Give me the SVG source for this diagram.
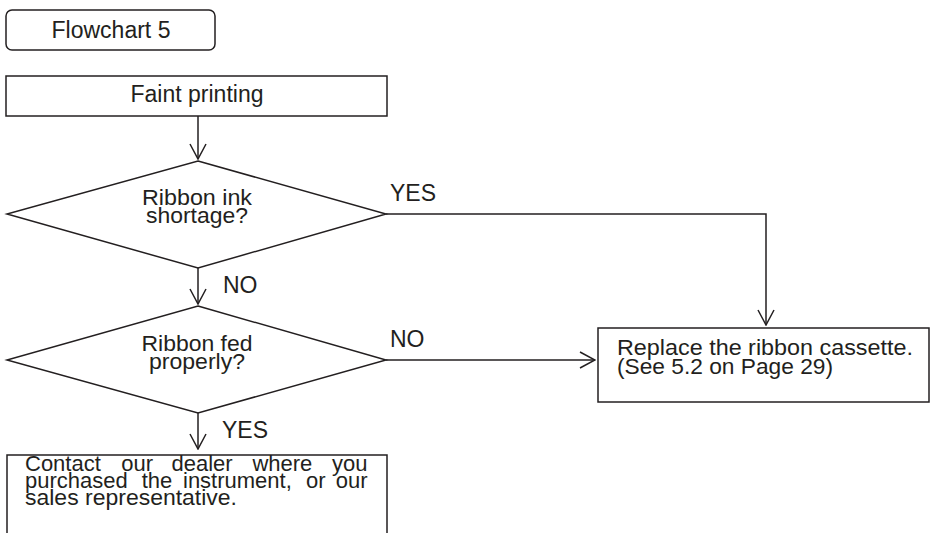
<svg xmlns="http://www.w3.org/2000/svg" width="930" height="533" viewBox="0 0 930 533">
<defs>
<style>
.s{fill:none;stroke:#231f20;stroke-width:1.5}
.b{fill:#fff;stroke:#231f20;stroke-width:1.5}
.t{font-family:"Liberation Sans",Arial,sans-serif;font-size:23px;fill:#231f20}
.m{font-size:22px}
.c{text-anchor:middle}
</style>
<marker id="ah" viewBox="0 0 17 18" refX="16" refY="9" markerWidth="17" markerHeight="18" markerUnits="userSpaceOnUse" orient="auto">
<path d="M1,1 L16,9 L1,17" fill="none" stroke="#231f20" stroke-width="1.5"/>
</marker>
</defs>
<rect width="930" height="533" fill="#fff"/>
<g id="title">
<rect class="b" x="6" y="10" width="209" height="40" rx="6"/>
<text class="t c" x="111" y="38">Flowchart 5</text>
</g>
<g id="faint">
<rect class="b" x="6" y="76" width="381" height="40"/>
<text class="t c" x="197" y="102">Faint printing</text>
</g>
<g id="d1">
<polygon class="b" points="198,161 386,214 198,268 7,214"/>
<text class="t m c" x="197" y="205" textLength="110" lengthAdjust="spacingAndGlyphs">Ribbon ink</text>
<text class="t m c" x="197" y="223" textLength="102" lengthAdjust="spacingAndGlyphs">shortage?</text>
</g>
<g id="d2">
<polygon class="b" points="198,306 386,360 198,413 7,360"/>
<text class="t m c" x="197" y="351" textLength="111" lengthAdjust="spacingAndGlyphs">Ribbon fed</text>
<text class="t m c" x="197" y="369" textLength="96" lengthAdjust="spacingAndGlyphs">properly?</text>
</g>
<g id="replace">
<rect class="b" x="598" y="328" width="331" height="74"/>
<text class="t m" x="617" y="355" textLength="296" lengthAdjust="spacingAndGlyphs">Replace the ribbon cassette.</text>
<text class="t m" x="617" y="374" textLength="216" lengthAdjust="spacingAndGlyphs">(See 5.2 on Page 29)</text>
</g>
<g id="contact">
<path class="s" d="M7,545 V455 H387 V545"/>
<text class="t m"><tspan x="25" y="471">Contact</tspan><tspan x="121.3" y="471">our</tspan><tspan x="171.5" y="471">dealer</tspan><tspan x="252.4" y="471">where</tspan><tspan x="332" y="471">you</tspan></text>
<text class="t m"><tspan x="25" y="488">purchased</tspan><tspan x="141.7" y="488">the</tspan><tspan x="183" y="488">instrument,</tspan><tspan x="306.1" y="488">or</tspan><tspan x="335.8" y="488">our</tspan></text>
<text class="t m" x="25" y="505" textLength="212" lengthAdjust="spacingAndGlyphs">sales representative.</text>
</g>
<g id="connectors">
<line class="s" x1="198" y1="116" x2="198" y2="159" marker-end="url(#ah)"/>
<line class="s" x1="198" y1="268" x2="198" y2="304" marker-end="url(#ah)"/>
<polyline class="s" points="386,214 766,214 766,325" marker-end="url(#ah)"/>
<line class="s" x1="386" y1="360" x2="595" y2="360" marker-end="url(#ah)"/>
<line class="s" x1="198" y1="413" x2="198" y2="449" marker-end="url(#ah)"/>
<text class="t" x="390" y="201">YES</text>
<text class="t" x="223" y="293">NO</text>
<text class="t" x="390" y="347">NO</text>
<text class="t" x="222" y="438">YES</text>
</g>
</svg>
